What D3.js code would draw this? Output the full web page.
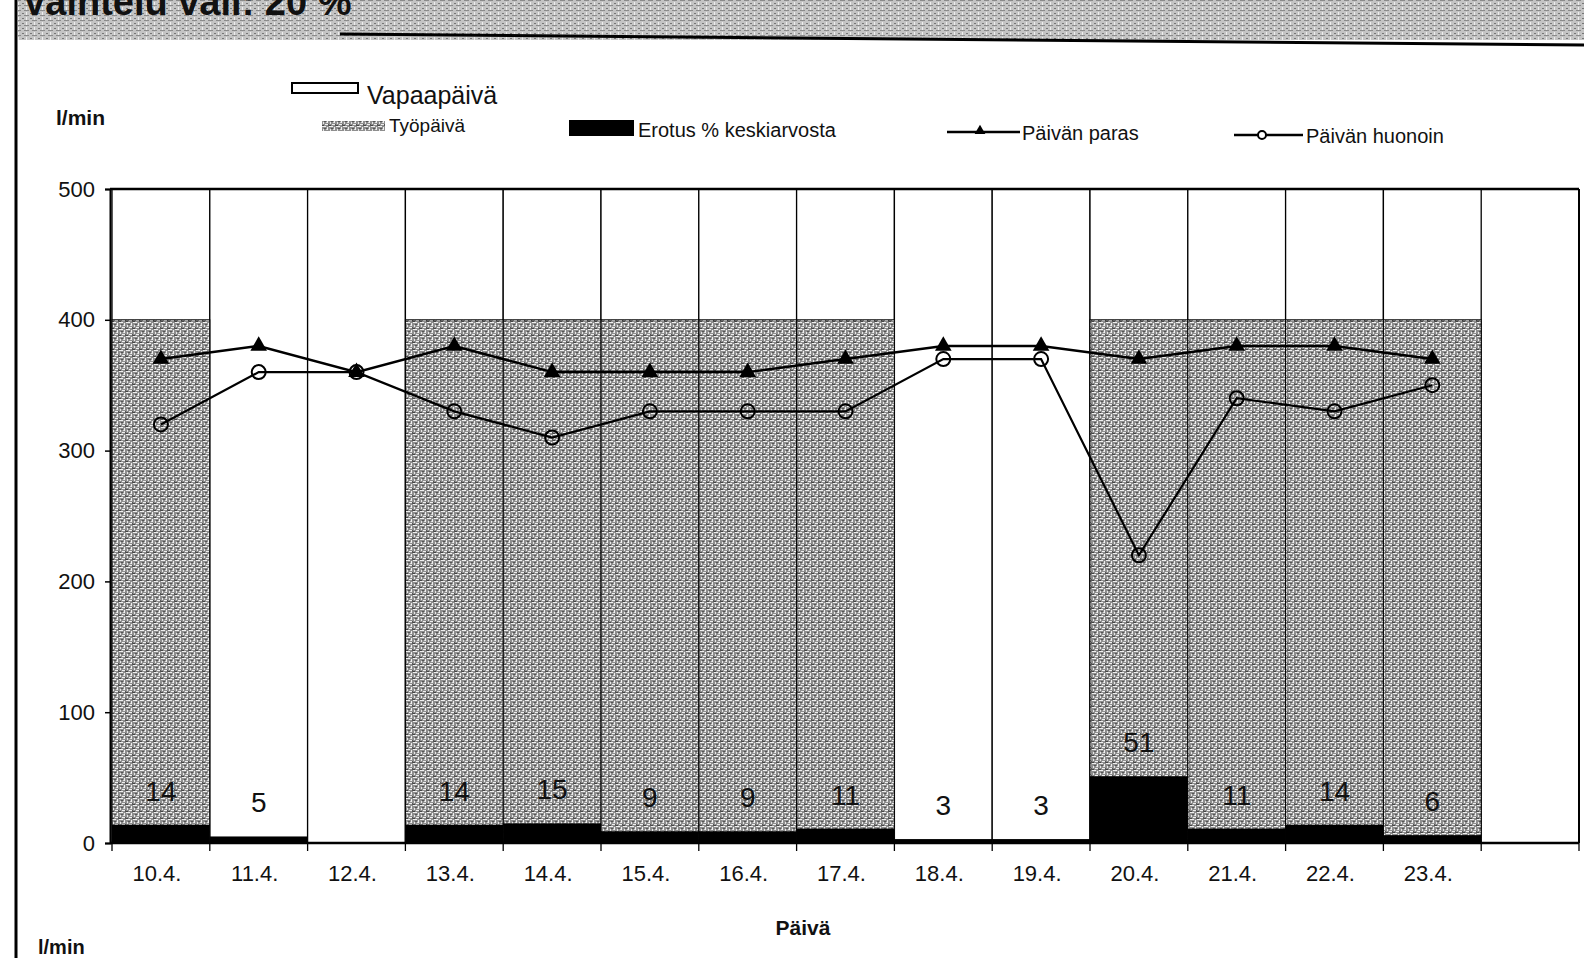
<!DOCTYPE html>
<html><head><meta charset="utf-8">
<script src="https://cdn.jsdelivr.net/npm/d3@7"></script>
<style>html,body{margin:0;padding:0;background:#fff;overflow:hidden}svg{display:block}</style>
</head><body>
<svg id="chart" width="1584" height="958"></svg>
<script>
// ---- data ----
const dates = ["10.4.","11.4.","12.4.","13.4.","14.4.","15.4.","16.4.","17.4.","18.4.","19.4.","20.4.","21.4.","22.4.","23.4."];
const dayType = ["työ","vapaa","vapaa","työ","työ","työ","työ","työ","vapaa","vapaa","työ","työ","työ","työ"];
const freeDayValue = 500;
const workDayValue = 400;
const erotus = [14,5,0,14,15,9,9,11,3,3,51,11,14,6];
const paras = [370,380,360,380,360,360,360,370,380,380,370,380,380,370];
const huonoin = [320,360,360,330,310,330,330,330,370,370,220,340,330,350];
const yTicks = [0,100,200,300,400,500];
const legendLabels = ["Vapaapäivä","Työpäivä","Erotus % keskiarvosta","Päivän paras","Päivän huonoin"];
const titleText = "Vaihtelu väli: 20 %";
const xTitle = "Päivä";
const yUnit = "l/min";

(function(){
const svg = d3.select("#chart");
const font = "'Liberation Sans', Arial, sans-serif";

const defs = svg.append("defs");
const pat = defs.append("pattern").attr("id","grey").attr("patternUnits","userSpaceOnUse").attr("width",7).attr("height",7);
pat.append("rect").attr("width",7).attr("height",7).attr("fill","#8e8e8e");
[[0,0,4,1,"#f0f0f0"],[5,1,1,3,"#f0f0f0"],[1,3,1,2,"#e8e8e8"],[3,5,3,1,"#f0f0f0"],[2,2,2,1,"#555"],[0,6,2,1,"#444"],[6,5,1,2,"#555"],[4,3,1,1,"#d8d8d8"]]
  .forEach(a=>pat.append("rect").attr("x",a[0]).attr("y",a[1]).attr("width",a[2]).attr("height",a[3]).attr("fill",a[4]));
const pat2 = defs.append("pattern").attr("id","scan").attr("patternUnits","userSpaceOnUse").attr("width",8).attr("height",5);
pat2.append("rect").attr("width",8).attr("height",5).attr("fill","#c4c4c4");
pat2.append("rect").attr("x",0).attr("y",0).attr("width",5).attr("height",1).attr("fill","#8a8a8a");
pat2.append("rect").attr("x",2).attr("y",2).attr("width",1).attr("height",3).attr("fill","#eee");
pat2.append("rect").attr("x",6).attr("y",3).attr("width",2).attr("height",1).attr("fill","#777");

// header band
svg.append("rect").attr("x",18).attr("y",0).attr("width",1566).attr("height",40).attr("fill","url(#scan)");
svg.append("text").attr("x",22).attr("y",15).attr("font-family",font).attr("font-weight","bold")
  .attr("font-size",38).attr("fill","#111").text(titleText);
svg.append("line").attr("x1",340).attr("y1",34).attr("x2",1584).attr("y2",45).attr("stroke","#000").attr("stroke-width",3);
svg.append("line").attr("x1",16).attr("y1",0).attr("x2",16).attr("y2",958).attr("stroke","#000").attr("stroke-width",3);

// scales
const pLeft = 110, pRight = 1579, pTop = 189, pBottom = 843;
const slots = dates.concat([" "]);
const x = d3.scaleBand().domain(slots).range([pLeft+2, pRight]).paddingInner(0).paddingOuter(0);
const y = d3.scaleLinear().domain([0,500]).range([pBottom, pTop]);

const g = svg.append("g");

g.selectAll("rect.free").data(dates).join("rect").attr("class","free")
  .attr("x",d=>x(d)).attr("width",x.bandwidth())
  .attr("y",y(freeDayValue)).attr("height",y(0)-y(freeDayValue))
  .attr("fill","#fff").attr("stroke","#000").attr("stroke-width",1.3);

const work = dates.map((d,i)=>({d,t:dayType[i]})).filter(o=>o.t==="työ");
g.selectAll("rect.work").data(work).join("rect").attr("class","work")
  .attr("x",o=>x(o.d)).attr("width",x.bandwidth())
  .attr("y",y(workDayValue)).attr("height",y(0)-y(workDayValue))
  .attr("fill","url(#grey)").attr("stroke","#000").attr("stroke-width",1);

g.selectAll("rect.ero").data(dates).join("rect").attr("class","ero")
  .attr("x",d=>x(d)).attr("width",x.bandwidth())
  .attr("y",(d,i)=>y(erotus[i])).attr("height",(d,i)=>y(0)-y(erotus[i]))
  .attr("fill","#000");

g.selectAll("text.ero").data(dates).join("text").attr("class","ero")
  .attr("x",d=>x(d)+x.bandwidth()/2).attr("y",(d,i)=>y(erotus[i])-24)
  .attr("text-anchor","middle").attr("font-family",font).attr("font-size",28).attr("fill","#111")
  .text((d,i)=>erotus[i]>0?erotus[i]:"");

g.append("line").attr("x1",pLeft).attr("x2",pRight).attr("y1",pTop).attr("y2",pTop).attr("stroke","#000").attr("stroke-width",2.5);
g.append("line").attr("x1",pRight).attr("x2",pRight).attr("y1",pTop).attr("y2",pBottom).attr("stroke","#000").attr("stroke-width",2);

const yAxis = d3.axisLeft(y).tickValues(yTicks).tickSize(5).tickPadding(10);
const ya = g.append("g").attr("transform",`translate(${pLeft},0)`).call(yAxis);
ya.select(".domain").attr("stroke","#000").attr("stroke-width",2);
ya.selectAll(".tick line").attr("stroke","#000").attr("stroke-width",1.5);
ya.selectAll(".tick text").attr("font-family",font).attr("font-size",22).attr("fill","#111");

g.append("line").attr("x1",pLeft).attr("x2",pRight).attr("y1",pBottom).attr("y2",pBottom).attr("stroke","#000").attr("stroke-width",2.5);
const bounds = slots.map(s=>x(s)).concat([pRight]);
g.selectAll("line.xt").data(bounds).join("line").attr("class","xt")
  .attr("x1",d=>d).attr("x2",d=>d).attr("y1",pBottom).attr("y2",pBottom+8)
  .attr("stroke","#000").attr("stroke-width",1.3);
g.selectAll("text.xl").data(dates).join("text").attr("class","xl")
  .attr("x",d=>x(d)+x.bandwidth()/2-4).attr("y",pBottom+38)
  .attr("text-anchor","middle").attr("font-family",font).attr("font-size",22).attr("fill","#111").text(d=>d);

const cx = d=>x(d)+x.bandwidth()/2;
const line = d3.line().x(p=>cx(p.d)).y(p=>y(p.v));
const parasPts = dates.map((d,i)=>({d,v:paras[i]}));
const huonoinPts = dates.map((d,i)=>({d,v:huonoin[i]}));
g.append("path").datum(parasPts).attr("d",line).attr("fill","none").attr("stroke","#000").attr("stroke-width",2.5);
g.append("path").datum(huonoinPts).attr("d",line).attr("fill","none").attr("stroke","#000").attr("stroke-width",2.2);
const tri = d3.symbol().type(d3.symbolTriangle).size(120);
g.selectAll("path.tri").data(parasPts).join("path").attr("class","tri")
  .attr("transform",p=>`translate(${cx(p.d)},${y(p.v)})`).attr("d",tri).attr("fill","#000");
g.selectAll("circle.hu").data(huonoinPts).join("circle").attr("class","hu")
  .attr("cx",p=>cx(p.d)).attr("cy",p=>y(p.v)).attr("r",7)
  .attr("fill","none").attr("stroke","#000").attr("stroke-width",2);

svg.append("text").attr("x",803).attr("y",935).attr("text-anchor","middle").attr("font-family",font)
  .attr("font-weight","bold").attr("font-size",21).attr("fill","#111").text(xTitle);
svg.append("text").attr("x",56).attr("y",125).attr("font-family",font)
  .attr("font-weight","bold").attr("font-size",21).attr("fill","#111").text(yUnit);
svg.append("text").attr("x",38).attr("y",954).attr("font-family",font)
  .attr("font-weight","bold").attr("font-size",20).attr("fill","#111").text(yUnit);

const L = svg.append("g").attr("font-family",font).attr("fill","#111");
L.append("rect").attr("x",292).attr("y",83).attr("width",66).attr("height",10).attr("fill","#fff").attr("stroke","#000").attr("stroke-width",2);
L.append("text").attr("x",367).attr("y",104).attr("font-size",25).text(legendLabels[0]);
L.append("rect").attr("x",322).attr("y",121).attr("width",63).attr("height",10).attr("fill","url(#grey)");
L.append("text").attr("x",389).attr("y",132).attr("font-size",19).text(legendLabels[1]);
L.append("rect").attr("x",569).attr("y",120).attr("width",65).attr("height",16).attr("fill","#000");
L.append("text").attr("x",638).attr("y",137).attr("font-size",20).text(legendLabels[2]);
L.append("line").attr("x1",947).attr("x2",1020).attr("y1",132).attr("y2",132).attr("stroke","#000").attr("stroke-width",2.5);
L.append("path").attr("transform","translate(980,131)").attr("d",d3.symbol().type(d3.symbolTriangle).size(50)).attr("fill","#000");
L.append("text").attr("x",1022).attr("y",140).attr("font-size",20).text(legendLabels[3]);
L.append("line").attr("x1",1234).attr("x2",1303).attr("y1",135).attr("y2",135).attr("stroke","#000").attr("stroke-width",2.5);
L.append("circle").attr("cx",1262).attr("cy",135).attr("r",4).attr("fill","#fff").attr("stroke","#000").attr("stroke-width",2);
L.append("text").attr("x",1306).attr("y",143).attr("font-size",20).text(legendLabels[4]);
})();
</script>
</body></html>
